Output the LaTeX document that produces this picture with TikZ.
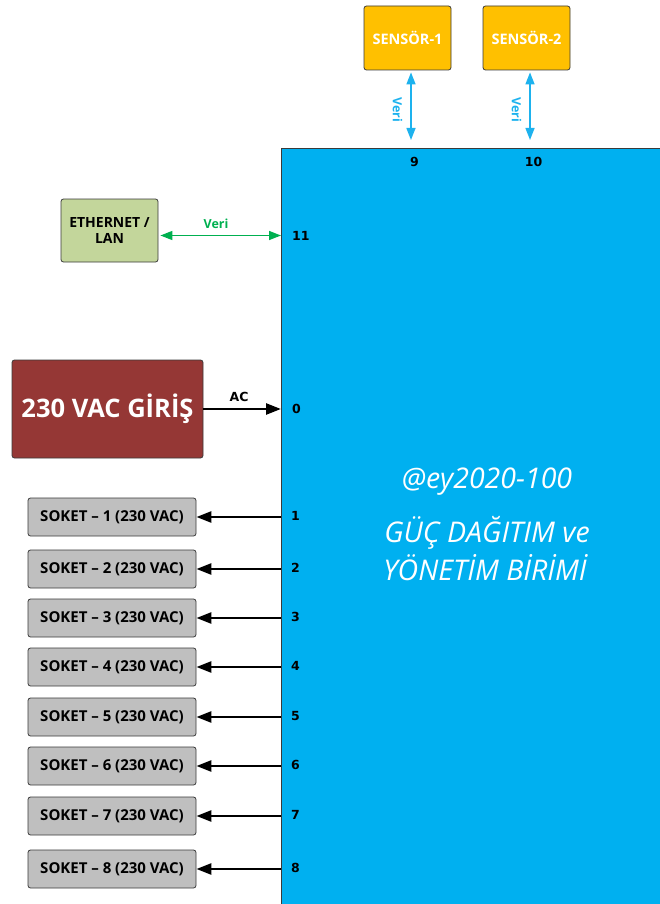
\documentclass[tikz,border=0pt]{standalone}
\usepackage{fontspec}
\setmainfont{Open Sans}
\newfontfamily\portfont{DejaVu Sans}
\usetikzlibrary{arrows.meta}
\definecolor{unitblue}{HTML}{00B0F0}
\definecolor{sensorgold}{HTML}{FFC000}
\definecolor{lanolive}{HTML}{C3D69B}
\definecolor{inputred}{HTML}{953735}
\definecolor{socketgrey}{HTML}{BFBFBF}
\definecolor{datablue}{HTML}{1DB2EE}
\definecolor{langreen}{HTML}{00B050}
\definecolor{boxedge}{HTML}{3A3A3A}
\begin{document}
\begin{tikzpicture}[x=1pt, y=-1pt, line join=round,
  box/.style={draw=boxedge, line width=0.8pt, rounded corners=2.5pt, inner sep=0pt, align=center},
  portlbl/.style={anchor=west, inner sep=0pt, font=\portfont\bfseries\fontsize{12.5}{14}\selectfont},
  datalbl/.style={inner sep=0pt, font=\bfseries\fontsize{12.5}{14}\selectfont},
  unittext/.style={text=white, inner sep=0pt, font=\itshape\fontsize{28.5}{32}\selectfont},
  feed/.style={line width=2.6pt, -{Triangle[length=15pt,width=11pt]}},
  data/.style={line width=1.4pt, {Triangle[length=12pt,width=9pt]}-{Triangle[length=12pt,width=9pt]}},
]
\useasboundingbox (0,0) rectangle (659,904);
% Main unit (runs off the right and bottom edges)
\node[fill=unitblue, inner sep=0pt, minimum width=390pt, minimum height=770pt, anchor=north west] (unit) at (281,148) {};
\draw[boxedge, line width=0.8pt] (unit.south west) -- (unit.north west) -- (unit.north east);
\node[unittext] (model) at (487,482) {@ey2020-100};
\node[unittext] (title1) at (487,533) {GÜÇ DAĞITIM ve};
\node[unittext] (title2) at (485,568) {YÖNETİM BİRİMİ};
% Sensors on top
\foreach \i/\xx/\port in {1/407.5/9, 2/526.5/10} {
  \node[box, fill=sensorgold, minimum width=87pt, minimum height=64pt, text=white,
        font=\bfseries\fontsize{14.5}{17}\selectfont] (sens\i) at (\xx,38) {SENSÖR-\i};
  \coordinate (sensport\i) at ([xshift=3.5pt]sens\i.south);
  \draw[data, datablue, shorten <=2pt, shorten >=8pt] (sensport\i) -- (sensport\i |- unit.north);
  \node[datalbl, text=datablue, rotate=-90] (veri\port) at (\xx-10,110) {Veri};
  \node[portlbl, anchor=center] (p\port) at (\xx+7,162) {\port};
}
% Ethernet
\node[box, fill=lanolive, minimum width=97pt, minimum height=63pt,
      font=\bfseries\fontsize{14}{16}\selectfont] (lan) at (109.5,230.5) {ETHERNET /\\LAN};
\coordinate (lanport) at ([xshift=2pt,yshift=-5pt]lan.east);
\draw[data, langreen] (lanport) -- (lanport -| unit.west);
\node[datalbl, text=langreen] (veri11) at (216,224) {Veri};
\node[portlbl] (p11) at (292,236) {11};
% AC input
\node[box, fill=inputred, minimum width=191pt, minimum height=98pt, text=white,
      font=\bfseries\fontsize{25.5}{30}\selectfont] (acin) at (107.5,409) {230 VAC GİRİŞ};
\draw[feed] (acin.east) -- (acin.east -| unit.west);
\node[portlbl, anchor=center] (aclbl) at (239,397) {AC};
\node[portlbl] (p0) at (292,409) {0};
% Socket outputs
\foreach \i/\yy in {1/517,2/569,3/618,4/667,5/717,6/766,7/816,8/869} {
  \node[box, fill=socketgrey, minimum width=168pt, minimum height=38pt,
        font=\bfseries\fontsize{15}{17}\selectfont] (sock\i) at (112,\yy) {SOKET – \i{} (230 VAC)};
  \draw[feed] (sock\i.east -| unit.west) -- (sock\i.east);
  \node[portlbl] (p\i) at (291,\yy-1) {\i};
}
\end{tikzpicture}
\end{document}
